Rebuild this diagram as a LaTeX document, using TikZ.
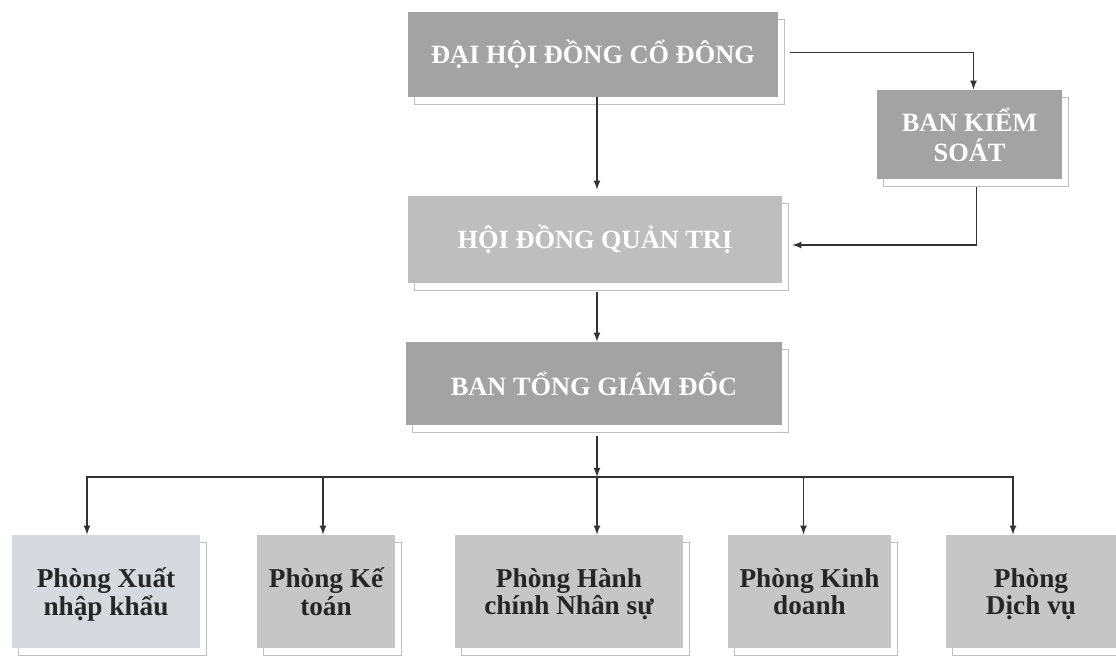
\documentclass[tikz,border=0pt]{standalone}
\usepackage{fontspec}
\setmainfont{Liberation Serif}
\usetikzlibrary{arrows,calc}
\definecolor{boxdark}{HTML}{A3A3A3}
\definecolor{boxmid}{HTML}{BEBEBE}
\definecolor{boxlow}{HTML}{C6C6C6}
\definecolor{boxpale}{HTML}{D6D9DD}

\begin{document}
\begin{tikzpicture}[x=0.02cm,y=-0.02cm,
	box/.style={rectangle, inner sep=2pt, align=center, font=\bfseries\fontsize{15}{17}\selectfont,
		preaction={draw=gray!50, line width=0.6pt, transform canvas={shift={(3.5pt,-4.5pt)}}}},
	head/.style={box, fill=boxdark, text=white},
	dept/.style={box, fill=boxlow, text=black!85, minimum height=2.26cm, text depth=-8pt, font=\bfseries\fontsize{15.5}{15.5}\selectfont},
	arr/.style={-latex, thick, black!80}]
	\useasboundingbox (0,0) rectangle (1116,657);
				% cap tren
				\node[head, minimum width=7.4cm, minimum height=1.7cm] (dhd) at (593,54.5) {ĐẠI HỘI ĐỒNG CỔ ĐÔNG};
				\node[head, minimum width=3.7cm, minimum height=1.78cm] (bks) at (969.5,134.5) {BAN KIỂM\\SOÁT};
				\node[box, fill=boxmid, text=white, minimum width=7.48cm, minimum height=1.74cm] (hdqt) at (595,239.5) {HỘI ĐỒNG QUẢN TRỊ};
				\node[head, minimum width=7.52cm, minimum height=1.66cm] (btgd) at (594,383.5) {BAN TỔNG GIÁM ĐỐC};
				% cac phong
				\node[dept, fill=boxpale, minimum width=3.76cm] (pxnk) at (106,591.5) {Phòng Xuất\\nhập khẩu};
				\node[dept, minimum width=2.76cm] (pkt) at (326,591.5) {Phòng Kế\\toán};
				\node[dept, minimum width=4.56cm] (phc) at (569,591.5) {Phòng Hành\\chính Nhân sự};
				\node[dept, minimum width=3.26cm] (pkd) at (809.5,591.5) {Phòng Kinh\\doanh};
				\node[dept, minimum width=3.4cm] (pdv) at (1031,591.5) {Phòng\\Dịch vụ};
				\coordinate (bus) at (597,477);
				% mui ten
				\draw[arr] ($(dhd.east)+(12,-2)$) -| ($(bks.north)+(4,0)$);
				\draw[arr] (dhd.south -| bus) -- ($(hdqt.north -| bus)+(0,-6)$);
				\draw[arr] ($(bks.south)+(7,8)$) |- ($(hdqt.east)+(10,5.5)$);
				\draw[arr] ($(hdqt.south -| bus)+(0,9)$) -- (btgd.north -| bus);
				\draw[arr] ($(btgd.south -| bus)+(0,11)$) -- (bus);
				\draw[arr] (bus) -| ($(pxnk.north)+(-19,0)$);
				\draw[arr] (bus) -| ($(pkt.north)+(-3,0)$);
				\draw[arr] (bus) -| ($(phc.north)+(28,0)$);
				\draw[arr] (bus) -| ($(pkd.north)+(-6,0)$);
				\draw[arr] (bus) -| ($(pdv.north)+(-18,0)$);
			\end{tikzpicture}
\end{document}
